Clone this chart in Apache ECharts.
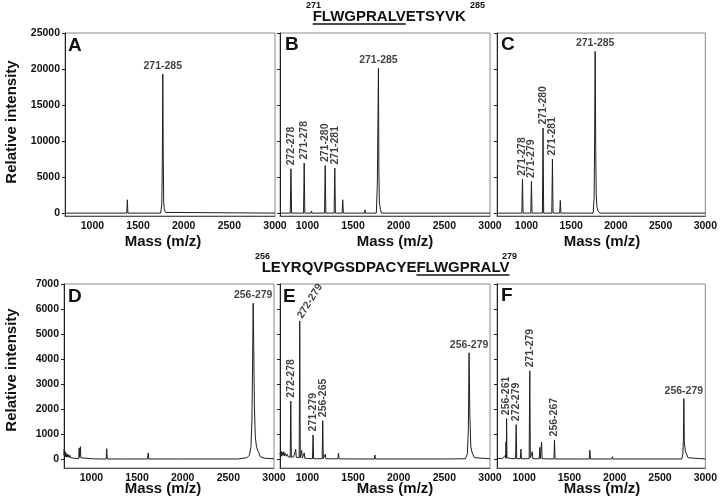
<!DOCTYPE html>
<html>
<head>
<meta charset="utf-8">
<script src="https://cdn.jsdelivr.net/npm/echarts@6/dist/echarts.min.js"></script>
<style>
  html, body { margin: 0; padding: 0; background: #fff; }
  #spectra { width: 720px; height: 503px; }
</style>
</head>
<body>
<div id="spectra"></div>
<script>
// tick labels
const xTicks = [1000, 1500, 2000, 2500, 3000]
const yTicksTop = [0, 5000, 10000, 15000, 20000, 25000]
const yTicksBottom = [0, 1000, 2000, 3000, 4000, 5000, 6000, 7000]

// spectra: [m/z, intensity]
const specA = [
  [700, 0], [1376, 0], [1383, 1850], [1389, 0],
  [1748, 0], [1760, 1200], [1766, 7000], [1771, 19300], [1776, 8000], [1781, 1500],
  [1787, 600], [1793, 400], [1800, 100], [1815, 0], [3000, 0]
]
const specB = [
  [700, 0], [812, 0], [820, 6150], [827, 0], [850, 0], [855, 120], [860, 0],
  [958, 0], [965, 6950], [972, 0], [1000, 0], [1004, 100], [1008, 0],
  [1040, 0], [1045, 300], [1050, 0], [1058, 0], [1062, 250], [1066, 0],
  [1188, 0], [1195, 6600], [1202, 0], [1293, 0], [1300, 6250], [1307, 0],
  [1380, 0], [1387, 1850], [1394, 0], [1624, 0], [1630, 450], [1636, 0],
  [1755, 0], [1766, 4000], [1772, 12000], [1778, 20100], [1783, 6000], [1788, 1500],
  [1794, 1400], [1800, 500], [1810, 0], [3000, 0]
]
const specC = [
  [670, 0], [948, 0], [955, 4700], [962, 0], [1048, 0], [1055, 4400], [1062, 0],
  [1178, 0], [1185, 11800], [1192, 0], [1283, 0], [1290, 7500], [1297, 0],
  [1371, 0], [1378, 1750], [1385, 0],
  [1745, 0], [1756, 2000], [1762, 10000], [1768, 22450], [1774, 9000], [1780, 2500],
  [1788, 800], [1800, 300], [1820, 0], [3000, 0]
]
const specD = [
  [700, 150], [703, 420], [706, 120], [712, 300], [716, 100], [722, 250], [728, 90],
  [735, 200], [742, 80], [750, 180], [758, 70], [766, 150], [775, 60], [790, 90],
  [810, 40], [840, 30], [862, 30], [866, 450], [870, 80], [876, 120], [880, 500],
  [884, 60], [900, 30], [1000, 20], [1100, 10], [1162, 10], [1168, 420], [1174, 10],
  [1345, 10], [1350, 60], [1355, 10], [1615, 10], [1622, 250], [1629, 10],
  [2000, 10], [2600, 10], [2700, 60], [2730, 150], [2748, 500], [2758, 1500],
  [2766, 4000], [2772, 6230], [2778, 4500], [2785, 2200], [2795, 900], [2808, 500],
  [2822, 350], [2835, 250], [2850, 100], [2900, 40], [3000, 20]
]
const specE = [
  [700, 250], [706, 150], [712, 320], [718, 120], [726, 280], [734, 150], [742, 300],
  [750, 130], [760, 230], [770, 120], [780, 200], [790, 100], [800, 150], [812, 80],
  [818, 2320], [824, 80], [835, 120], [850, 100], [865, 80], [872, 400], [878, 80],
  [890, 70], [910, 60], [916, 5520], [922, 60], [932, 60], [938, 350], [944, 50],
  [960, 50], [966, 250], [972, 40], [1000, 30], [1056, 20], [1062, 970], [1068, 20],
  [1100, 20], [1162, 20], [1168, 1540], [1174, 20], [1190, 20], [1196, 200], [1202, 20],
  [1335, 15], [1341, 240], [1347, 15], [1620, 10], [1628, 70], [1636, 10],
  [1733, 10], [1739, 170], [1745, 10], [1872, 10], [1878, 80], [1884, 10],
  [2500, 10], [2730, 20], [2752, 200], [2763, 1200], [2771, 4250], [2779, 1800],
  [2790, 500], [2805, 250], [2830, 60], [3000, 20]
]
const specF = [
  [700, 30], [760, 30], [780, 50], [790, 150], [796, 30], [800, 700], [803, 60],
  [806, 1620], [810, 60], [820, 120], [828, 40], [850, 30], [856, 100], [862, 20],
  [905, 20], [912, 1380], [918, 20], [958, 20], [964, 400], [970, 20],
  [1055, 20], [1062, 3530], [1068, 50], [1084, 40], [1090, 300], [1096, 20],
  [1166, 20], [1172, 470], [1178, 20], [1186, 20], [1192, 680], [1198, 20],
  [1329, 10], [1335, 770], [1341, 10], [1595, 10], [1600, 60], [1606, 10],
  [1719, 10], [1725, 360], [1731, 10], [1968, 10], [1974, 100], [1980, 10],
  [2740, 10], [2752, 200], [2758, 800], [2763, 2420], [2768, 700], [2780, 300],
  [2795, 250], [2810, 60], [3000, 10]
]

// labelled peaks: [fragment, m/z, intensity]
const peaksA = [['271-285', 1771, 19300]]
const peaksB = [['272-278', 820, 6150], ['271-278', 965, 6950], ['271-280', 1195, 6600], ['271-281', 1300, 6250], ['271-285', 1778, 20100]]
const peaksC = [['271-278', 955, 4700], ['271-279', 1055, 4400], ['271-280', 1185, 11800], ['271-281', 1290, 7500], ['271-285', 1768, 22450]]
const peaksD = [['256-279', 2772, 6230]]
const peaksE = [['272-278', 818, 2320], ['272-279', 916, 5520], ['271-279', 1062, 970], ['256-265', 1168, 1540], ['256-279', 2771, 4250]]
const peaksF = [['256-261', 806, 1620], ['272-279', 912, 1380], ['271-279', 1062, 3530], ['256-267', 1335, 770], ['256-279', 2763, 2420]]

const FONT = '"Liberation Sans", Arial, Helvetica, sans-serif'
const INK = '#111'

const panels = [
  { id: 'A', spec: specA, peaks: peaksA, xMin: 700, box: [65, 33, 210, 183], top: true, yLabels: true, main: '271-285' },
  { id: 'B', spec: specB, peaks: peaksB, xMin: 700, box: [280, 33, 210, 183], top: true, main: '271-285' },
  { id: 'C', spec: specC, peaks: peaksC, xMin: 670, box: [497, 33, 212, 183], top: true, main: '271-285' },
  { id: 'D', spec: specD, peaks: peaksD, xMin: 700, box: [64, 284, 210, 184], yLabels: true, main: '256-279' },
  { id: 'E', spec: specE, peaks: peaksE, xMin: 700, box: [280, 284, 210, 184], main: '256-279', tilt: { '272-279': 58 } },
  { id: 'F', spec: specF, peaks: peaksF, xMin: 700, box: [497, 284, 212, 184], main: '256-279' }
]

const labelText = { fontFamily: FONT, fontWeight: 'bold', fontSize: 10.5, color: INK }
const plain = v => String(v)

const grid = []
const xAxis = []
const yAxis = []
const series = []

panels.forEach((p, i) => {
  grid.push({
    left: p.box[0], top: p.box[1], width: p.box[2], height: p.box[3],
    show: true, borderColor: '#8a8a8a', borderWidth: 1
  })
  xAxis.push({
    gridIndex: i, type: 'value', min: p.xMin, max: 3000,
    axisLine: { show: true, onZero: false, lineStyle: { color: '#555' } },
    axisTick: { show: false },
    splitLine: { show: false },
    axisLabel: Object.assign({ customValues: xTicks, margin: 5, formatter: plain }, labelText)
  })
  const yt = p.top ? yTicksTop : yTicksBottom
  yAxis.push({
    gridIndex: i, type: 'value',
    min: p.top ? -400 : -350, max: p.top ? 25000 : 7000,
    axisLine: { show: true, onZero: false, lineStyle: { color: '#222' } },
    axisTick: { show: true, length: 3, customValues: yt, lineStyle: { color: '#222' } },
    splitLine: { show: false },
    axisLabel: Object.assign({ show: !!p.yLabels, customValues: yt, margin: 5, formatter: plain }, labelText)
  })
  series.push({
    type: 'line', xAxisIndex: i, yAxisIndex: i, data: p.spec,
    symbol: 'none', silent: true,
    lineStyle: { width: 1, color: '#1e1e1e' }
  })
  series.push({
    type: 'scatter', xAxisIndex: i, yAxisIndex: i, silent: true,
    symbolSize: 1, itemStyle: { color: 'transparent' },
    data: p.peaks.map(([name, m, h]) => {
      let label
      if (name === p.main) {
        label = { position: 'top', distance: 2, align: 'center', verticalAlign: 'bottom' }
      } else {
        const rot = (p.tilt && p.tilt[name]) || 90
        label = { position: 'top', distance: 3, rotate: rot, align: 'left', verticalAlign: 'middle' }
      }
      return { name, value: [m, h], label: Object.assign({ show: true, formatter: '{b}' }, labelText, label) }
    })
  })
})

// header sequences, FLWGPRALV part underlined
const hdrFont = 'bold 15px ' + FONT
const supFont = 'bold 9px ' + FONT
const measure = document.createElement('canvas').getContext('2d')
const textWidth = (s, font) => { measure.font = font; return measure.measureText(s).width }

const graphic = []
const addText = (text, x, y, font, opts) => {
  graphic.push(Object.assign({
    type: 'text', x, y, silent: true,
    style: Object.assign({ text, font, fill: INK, textAlign: 'left', textVerticalAlign: 'middle' }, (opts && opts.style) || {})
  }, (opts && opts.el) || {}))
}
const underline = (x1, x2, y) => {
  graphic.push({ type: 'line', silent: true, shape: { x1, y1: y, x2, y2: y }, style: { stroke: INK, lineWidth: 1.3 } })
}

// top sequence 271-285
const topX = 312.7
addText('FLWGPRALVETSYVK', topX, 16.8, hdrFont)
underline(topX, topX + textWidth('FLWGPRALV', hdrFont), 24)
addText('271', 306, 6, supFont)
addText('285', 470, 5.5, supFont)

// bottom sequence 256-279
const botX = 261.7
const preW = textWidth('LEYRQVPGSDPACYE', hdrFont)
addText('LEYRQVPGSDPACYEFLWGPRALV', botX, 267.8, hdrFont)
underline(botX + preW, botX + preW + textWidth('FLWGPRALV', hdrFont), 275)
addText('256', 255, 256.5, supFont)
addText('279', 502, 257, supFont)

// panel letters
const letterPos = [[68, 36], [285, 35], [501, 35], [68, 287], [283, 287], [501, 286]]
panels.forEach((p, i) => {
  addText(p.id, letterPos[i][0], letterPos[i][1], 'bold 19px ' + FONT, { style: { textVerticalAlign: 'top' } })
})

// axis titles
const massX = [163, 395, 602]
massX.forEach(x => {
  addText('Mass (m/z)', x, 242, 'bold 15px ' + FONT, { style: { textAlign: 'center' } })
  addText('Mass (m/z)', x, 489, 'bold 15px ' + FONT, { style: { textAlign: 'center' } })
})
addText('Relative intensity', 12, 122, 'bold 15px ' + FONT, { style: { textAlign: 'center' }, el: { rotation: Math.PI / 2 } })
addText('Relative intensity', 12, 370, 'bold 15px ' + FONT, { style: { textAlign: 'center' }, el: { rotation: Math.PI / 2 } })

const chart = echarts.init(document.getElementById('spectra'))
chart.setOption({
  animation: false,
  backgroundColor: '#fff',
  grid,
  xAxis,
  yAxis,
  series,
  graphic
})
</script>
</body>
</html>
